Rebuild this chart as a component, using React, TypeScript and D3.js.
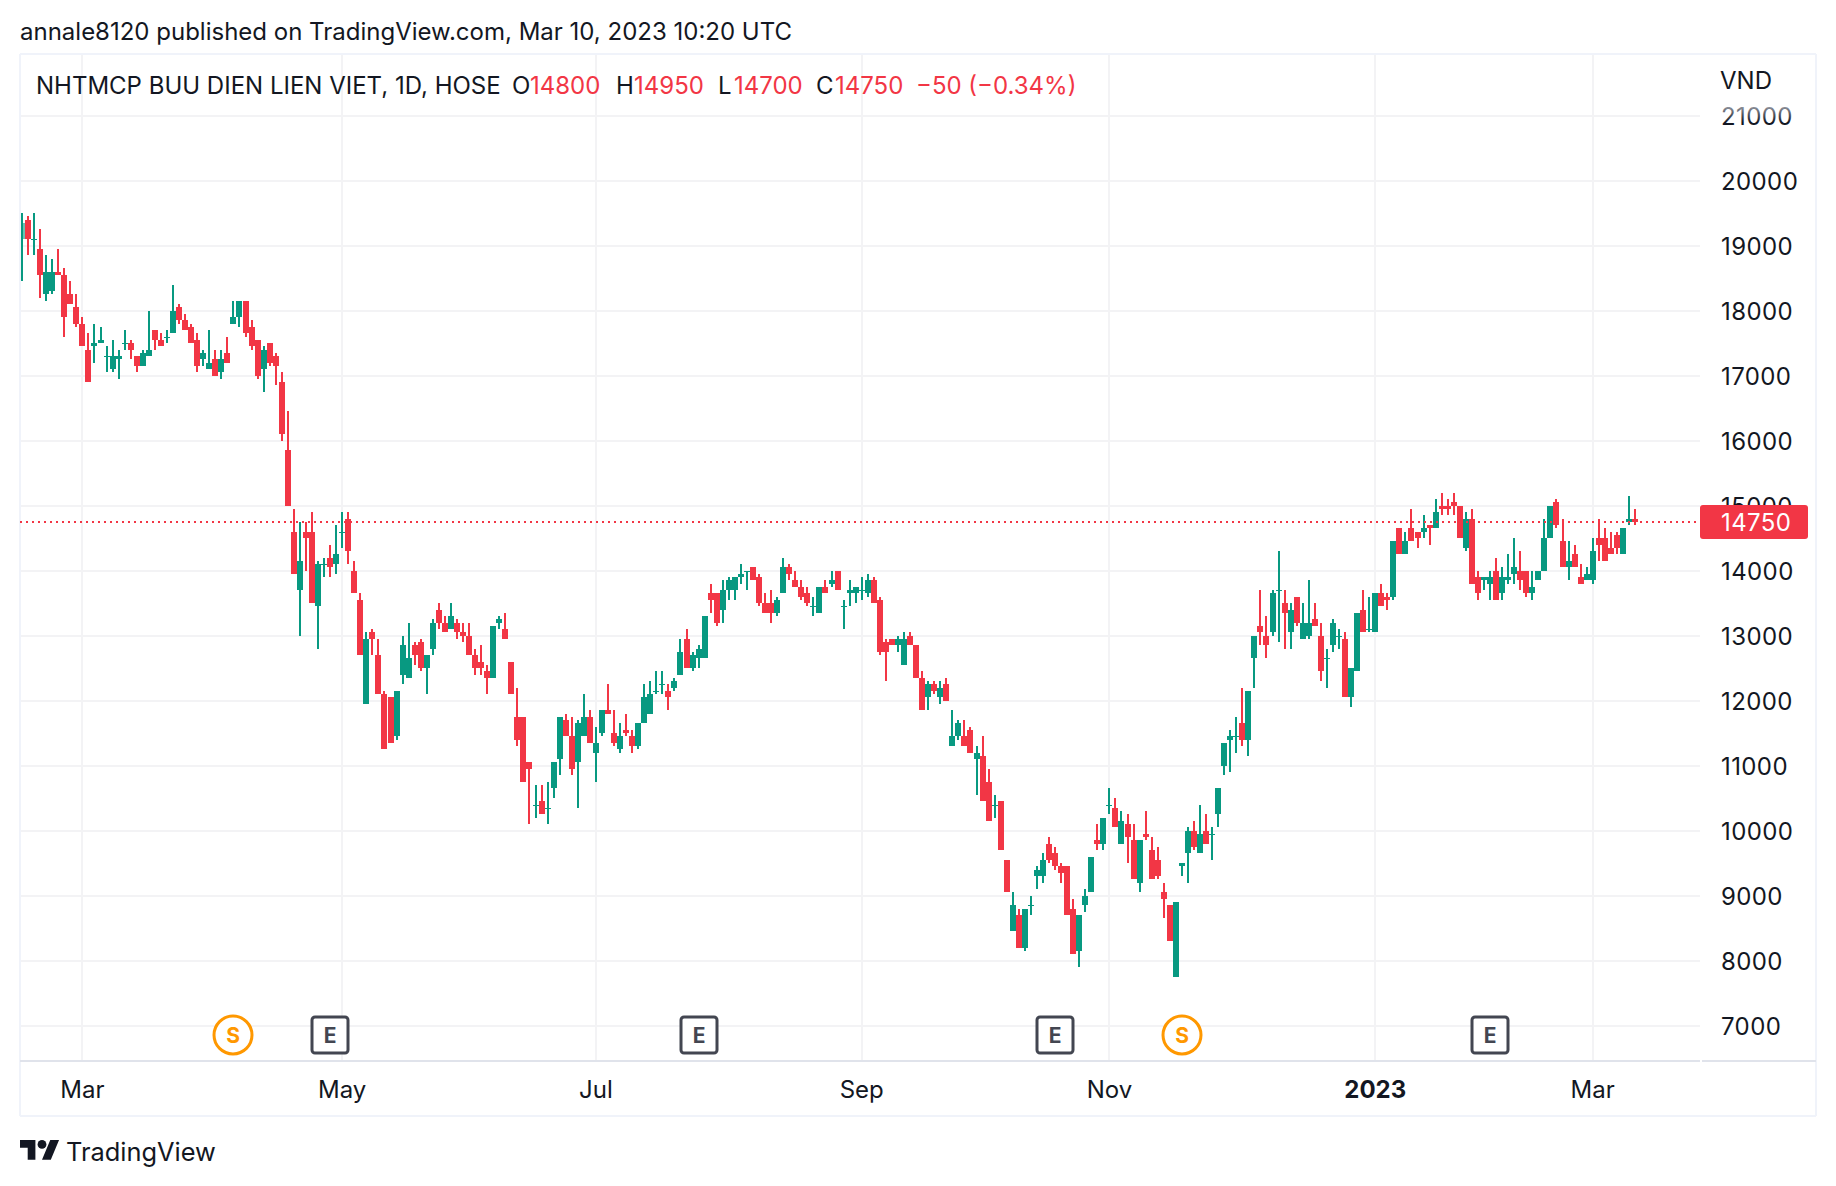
import * as d3 from "d3";

// daily candles, one entry per session
const opens = [
  19100,19400,19100,18950,18250,18300,18600,18550,18250,18050,
  17800,17400,17450,17500,17300,17100,17250,17500,17500,17300,
  17150,17300,17700,17550,17600,17650,18050,17850,17750,17550,
  17250,17100,17250,17050,17350,17800,17900,18150,17750,17550,
  17100,17500,17300,16900,15850,14600,13700,14600,14600,13450,
  14100,14200,14100,14600,14800,14000,13550,11950,13050,12700,
  12100,12050,11450,12400,12350,12850,12900,12500,12800,13400,
  13200,13100,13200,13050,13000,12700,12600,12450,12350,13200,
  13100,12600,11750,11750,11050,10400,10450,10350,10650,11100,
  11700,11450,11050,11450,11750,11200,11500,11850,11500,11250,
  11550,11450,11300,11650,11800,12150,12250,12150,12200,12400,
  12950,12500,12650,12650,13650,13650,13400,13700,13700,13900,
  14000,14050,13900,13500,13500,13350,13650,14050,13850,13750,
  13650,13450,13350,13750,13800,14000,13450,13650,13650,13700,
  13650,13850,13550,12900,12950,12850,12550,13000,12850,12350,
  12050,12250,12050,12250,11300,11450,11450,11550,11100,11150,
  10750,10400,10450,9550,8450,8700,8200,8850,9300,9300,
  9800,9650,9450,9450,8800,8150,8850,9050,9850,9800,
  10400,10350,9800,10100,9850,9200,9950,9700,9550,9050,
  8850,7750,9450,9650,10000,9650,10000,9950,10250,11000,
  11400,11450,11650,11400,12650,13150,13000,13050,13700,13500,
  13050,13600,12950,13000,13250,13000,12650,12850,13000,12950,
  12050,12450,13400,13100,13050,13650,13600,13600,14650,14250,
  14650,14600,14600,14700,14650,15000,15000,15050,15000,14350,
  14800,13900,13850,13800,14000,13650,13850,13950,14000,14000,
  13650,13850,14000,14500,15050,14450,14050,14250,13900,13850,
  13850,14500,14500,14350,14550,14250,14750,14800,
];
const highs = [
  19500,19450,19500,19250,18850,18800,18950,18650,18450,18250,
  17900,17650,17800,17750,17450,17550,17400,17700,17550,17300,
  17400,18000,17700,17650,17700,18400,18100,17950,17800,17650,
  17400,17700,17400,17400,17600,18150,18150,18150,17850,17550,
  17450,17500,17350,17050,16450,14950,14750,14750,14900,14150,
  14200,14400,14700,14900,14900,14150,13650,13050,13100,12950,
  12150,12050,12150,13000,13200,12900,12950,12700,13250,13500,
  13300,13500,13250,13200,13200,12800,12850,12550,13150,13300,
  13350,12600,12200,11750,11050,10700,10700,10750,11050,11750,
  11800,11750,11700,12100,11850,11600,11850,12250,11850,11650,
  11800,11550,11650,12250,12300,12450,12450,12250,12350,12950,
  13100,12750,12850,13300,13800,13650,13850,13900,13900,14100,
  14000,14050,13950,13650,13700,13600,14200,14100,14000,13850,
  13750,13600,13750,13850,14000,14000,13550,13850,13750,13900,
  13950,13900,13600,12950,12950,13000,13050,13050,12850,12450,
  12300,12300,12300,12350,11850,11700,11700,11600,11300,11450,
  10950,10550,10450,9550,9050,8800,8800,9000,9450,9650,
  9900,9750,9500,9450,8950,8700,9100,9600,10100,10200,
  10650,10500,10300,10250,10100,9850,10300,9900,9750,9200,
  8850,8900,9500,10050,10150,10400,10250,10050,10650,11350,
  11550,11750,12200,12150,13000,13700,13300,13700,14300,13700,
  13500,13600,13500,13850,13500,13200,12800,13250,13100,13050,
  12500,13350,13700,13600,13650,13800,13650,14450,14650,14600,
  14950,14600,14850,14700,15100,15200,15100,15200,15000,14900,
  14950,14000,13900,14000,14200,14050,14250,14500,14300,14000,
  14000,14000,14800,15000,15100,14800,14450,14400,14100,14050,
  14500,14800,14650,14600,14600,14650,15150,14950,
];
const lows = [
  18450,18850,18850,18200,18150,18250,18550,17600,18100,17750,
  17450,16900,17200,17500,17050,17050,16950,17400,17250,17050,
  17150,17300,17400,17450,17500,17650,17800,17700,17500,17050,
  17150,17100,17000,16950,17200,17800,17750,17600,17400,16950,
  16750,17150,16850,16000,15000,13950,13000,14000,13500,12800,
  13900,13900,13950,14350,14100,13650,12700,11950,12700,12100,
  11250,11350,11400,12250,12350,12550,12450,12100,12700,13100,
  13050,13100,12950,12900,12700,12400,12400,12100,12350,13100,
  12950,12100,11300,10750,10100,10200,10250,10100,10500,10850,
  11450,10850,10350,11450,11350,10750,11450,11800,11300,11200,
  11450,11200,11250,11650,11800,12100,12100,11850,12150,12400,
  12500,12450,12500,12650,13350,13150,13200,13550,13550,13800,
  13700,13850,13450,13350,13200,13300,13650,13850,13750,13550,
  13450,13300,13350,13650,13750,13700,13100,13450,13500,13550,
  13600,13500,12700,12300,12850,12750,12550,12850,12350,11850,
  11850,12100,11950,12000,11300,11400,11300,11200,10550,10450,
  10150,10200,9700,9050,8450,8200,8150,8700,9100,9200,
  9500,9400,9200,8700,8100,7900,8750,9050,9700,9700,
  10250,10050,9800,9500,9250,9050,9850,9250,9250,8650,
  8300,7750,9300,9200,9700,9650,9800,9550,10050,10850,
  10900,11200,11300,11150,12200,12850,12650,13000,12900,12800,
  12800,13150,12950,12950,13150,12300,12200,12750,12800,12050,
  11900,12450,13050,13050,13050,13450,13400,13550,14250,14250,
  14450,14350,14500,14400,14650,14850,14850,14850,14500,14300,
  13800,13550,13700,13550,13550,13550,13800,13800,13700,13600,
  13550,13850,14000,14500,14650,14050,13850,14050,13800,13850,
  13800,14150,14150,14250,14250,14250,14700,14700,
];
const closes = [
  19350,19100,19100,18550,18600,18600,18550,17900,18100,17800,
  17450,16900,17500,17550,17300,17300,17300,17500,17400,17150,
  17350,17400,17550,17450,17600,18000,17850,17700,17500,17150,
  17350,17200,17000,17250,17200,17900,18150,17650,17450,17000,
  17400,17200,17150,16100,15000,13950,14150,14500,13500,14100,
  14100,14050,14250,14600,14300,13650,12700,12950,12950,12100,
  11250,11350,12150,12850,12650,12700,12500,12700,13200,13200,
  13050,13300,13050,13000,12700,12500,12500,12350,13150,13250,
  12950,12100,11400,10750,10950,10400,10250,10350,11050,11750,
  11450,10950,11650,11750,11350,11350,11850,11800,11350,11450,
  11500,11300,11650,12050,12100,12150,12250,12050,12300,12750,
  12500,12700,12800,13300,13550,13200,13700,13850,13900,13950,
  14000,13850,13500,13350,13350,13550,14050,13950,13750,13600,
  13500,13450,13750,13650,13850,13700,13450,13700,13750,13700,
  13850,13500,12750,12750,12850,12950,12950,12850,12350,11850,
  12250,12150,12200,12000,11450,11650,11300,11200,11200,10450,
  10150,10400,9700,9050,8850,8200,8800,8850,9400,9550,
  9550,9450,9350,8700,8100,8700,9000,9600,9800,10200,
  10400,10050,10150,9900,9250,9850,9900,9250,9300,8950,
  8300,8900,9500,10000,9750,9950,9800,9950,10650,11350,
  11450,11450,11400,12150,13000,13050,12850,13650,13700,13350,
  13400,13200,13200,13200,13150,12450,12650,13200,13000,12050,
  12500,13350,13050,13100,13650,13450,13550,14450,14250,14450,
  14450,14500,14650,14650,14900,14950,14950,15000,14500,14800,
  13800,13650,13900,13900,13550,13900,13900,14050,13850,13650,
  13750,14000,14500,15000,14700,14050,14150,14050,13800,13950,
  14300,14400,14150,14250,14350,14650,14800,14750,
];

const priceTicks = [21000, 20000, 19000, 18000, 17000, 16000, 15000, 14000, 13000, 12000, 11000, 10000, 9000, 8000, 7000];
const timeTicks = [
  { label: "Mar", bar: 10 },
  { label: "May", bar: 53 },
  { label: "Jul", bar: 95 },
  { label: "Sep", bar: 139 },
  { label: "Nov", bar: 180 },
  { label: "2023", bar: 224, bold: true },
  { label: "Mar", bar: 260 },
];
const splitBars = [35, 192];
const earningsBars = [51, 112, 171, 243];
const lastPrice = 14750;

const UP = "#089981";
const DOWN = "#f23645";
const GRID = "#f3f3f5";
const BORDER = "#f0f3fa";
const INK = "#131722";
const FONT = "Inter, sans-serif";
const TEXT_SIZE = 24;

const x = d3.scaleLinear().domain([0, opens.length - 1]).range([22, 1635]);
const y = d3.scaleLinear().domain([7000, 21000]).range([1025.7, 115.7]);

const left = 20;
const right = 1816;
const plotRight = 1700;
const top = 54;
const axisY = 1061;
const bottom = 1116;

function Candles() {
  return (
    <g clipPath="url(#plot)" shapeRendering="crispEdges">
      {opens.map((open, i) => {
        const close = closes[i];
        const color = close >= open ? UP : DOWN;
        const cx = Math.round(x(i));
        const bodyTop = Math.round(y(Math.max(open, close)));
        const bodyBottom = Math.round(y(Math.min(open, close)));
        const wickTop = Math.round(y(highs[i]));
        const wickBottom = Math.round(y(lows[i]));
        return (
          <g key={i} fill={color}>
            <rect x={cx - 1} y={wickTop} width={2} height={Math.max(1, wickBottom - wickTop)} />
            <rect
              x={cx - 3}
              y={bodyTop}
              width={6}
              height={Math.max(1, bodyBottom - bodyTop)}
              fillOpacity={i === 0 ? 0.6 : 1}
            />
          </g>
        );
      })}
    </g>
  );
}

function Legend() {
  return (
    <g fontSize={TEXT_SIZE}>
      <text x={36} y={94} fill={INK}>NHTMCP BUU DIEN LIEN VIET, 1D, HOSE</text>
      <text x={512} y={94} fill={INK}>O</text>
      <text x={530} y={94} fill={DOWN}>14800</text>
      <text x={616} y={94} fill={INK}>H</text>
      <text x={634} y={94} fill={DOWN}>14950</text>
      <text x={718} y={94} fill={INK}>L</text>
      <text x={734} y={94} fill={DOWN}>14700</text>
      <text x={816} y={94} fill={INK}>C</text>
      <text x={835} y={94} fill={DOWN}>14750</text>
      <text x={916} y={94} fill={DOWN}>−50 (−0.34%)</text>
    </g>
  );
}

export default function App() {
  return (
    <svg
      width={1836}
      height={1186}
      style={{ position: "absolute", left: 0, top: 0, background: "#fff" }}
      fontFamily={FONT}
    >
      <defs>
        <clipPath id="plot">
          <rect x={left + 1} y={top} width={plotRight - left} height={axisY - top} />
        </clipPath>
        <linearGradient id="fade" x1="0" y1="0" x2="0" y2="1">
          <stop offset="0" stopColor="#b2b5be" />
          <stop offset="0.7" stopColor={INK} />
        </linearGradient>
      </defs>

      <text x={20} y={40} fontSize={TEXT_SIZE} fill={INK}>
        annale8120 published on TradingView.com, Mar 10, 2023 10:20 UTC
      </text>

      <g shapeRendering="crispEdges">
        {priceTicks.map((p) => (
          <rect key={p} x={left} y={Math.round(y(p)) - 1} width={plotRight - left} height={2} fill={GRID} />
        ))}
        {timeTicks.map((t) => (
          <rect key={t.label + t.bar} x={Math.round(x(t.bar)) - 1} y={top} width={2} height={axisY - top} fill={GRID} />
        ))}
        <rect x={left} y={top - 1} width={right - left} height={2} fill={BORDER} />
        <rect x={left} y={bottom - 1} width={right - left} height={2} fill={BORDER} />
        <rect x={left - 1} y={top} width={2} height={bottom - top} fill={BORDER} />
        <rect x={right - 1} y={top} width={2} height={bottom - top} fill={BORDER} />
        <rect x={left} y={axisY - 1} width={plotRight - left} height={2} fill="#e0e3eb" />
        <rect x={plotRight + 2} y={axisY - 1} width={right - plotRight - 2} height={2} fill="#e0e3eb" />
      </g>

      <Candles />

      <line
        x1={left}
        x2={plotRight}
        y1={y(lastPrice)}
        y2={y(lastPrice)}
        stroke={DOWN}
        strokeWidth={2}
        strokeDasharray="2 4"
      />

      <Legend />

      <text x={1720} y={89} fontSize={TEXT_SIZE} fill={INK}>VND</text>
      <g fontSize={TEXT_SIZE} letterSpacing={0.4}>
        {priceTicks.map((p) => (
          <text key={p} x={1721} y={y(p) + 1} dy="0.36em" fill={p === 21000 ? "url(#fade)" : INK}>
            {p}
          </text>
        ))}
      </g>

      <rect x={1700} y={505} width={108} height={34} rx={3} fill={DOWN} />
      <text x={1721} y={y(lastPrice)} dy="0.36em" fontSize={TEXT_SIZE} letterSpacing={0.4} fill="#fff">
        {lastPrice}
      </text>

      {splitBars.map((b) => (
        <g key={b} transform={`translate(${Math.round(x(b))},1035)`}>
          <circle r={19} fill="#fff" stroke="#ff9800" strokeWidth={3} />
          <text textAnchor="middle" dy="0.36em" fontSize={21} fontWeight={700} fill="#ff9800">S</text>
        </g>
      ))}
      {earningsBars.map((b) => (
        <g key={b} transform={`translate(${Math.round(x(b))},1035)`}>
          <rect x={-18} y={-18} width={36} height={36} rx={3} fill="#fff" stroke="#434651" strokeWidth={3} />
          <text textAnchor="middle" dy="0.36em" fontSize={21} fontWeight={700} fill="#434651">E</text>
        </g>
      ))}

      {timeTicks.map((t) => (
        <text
          key={t.label + t.bar}
          x={x(t.bar)}
          y={1098}
          textAnchor="middle"
          fontSize={TEXT_SIZE}
          fontWeight={t.bold ? 700 : 400}
          fill={INK}
        >
          {t.label}
        </text>
      ))}

      <g transform="translate(20,1135.6) scale(1.1)" fill={INK}>
        <path d="M14 22H7V11H0V4h14v18zM28 22h-8l7.5-18h8L28 22z" />
        <circle cx={20} cy={8} r={4} />
      </g>
      <text x={66} y={1161} fontSize={25.4} fill={INK}>TradingView</text>
    </svg>
  );
}
